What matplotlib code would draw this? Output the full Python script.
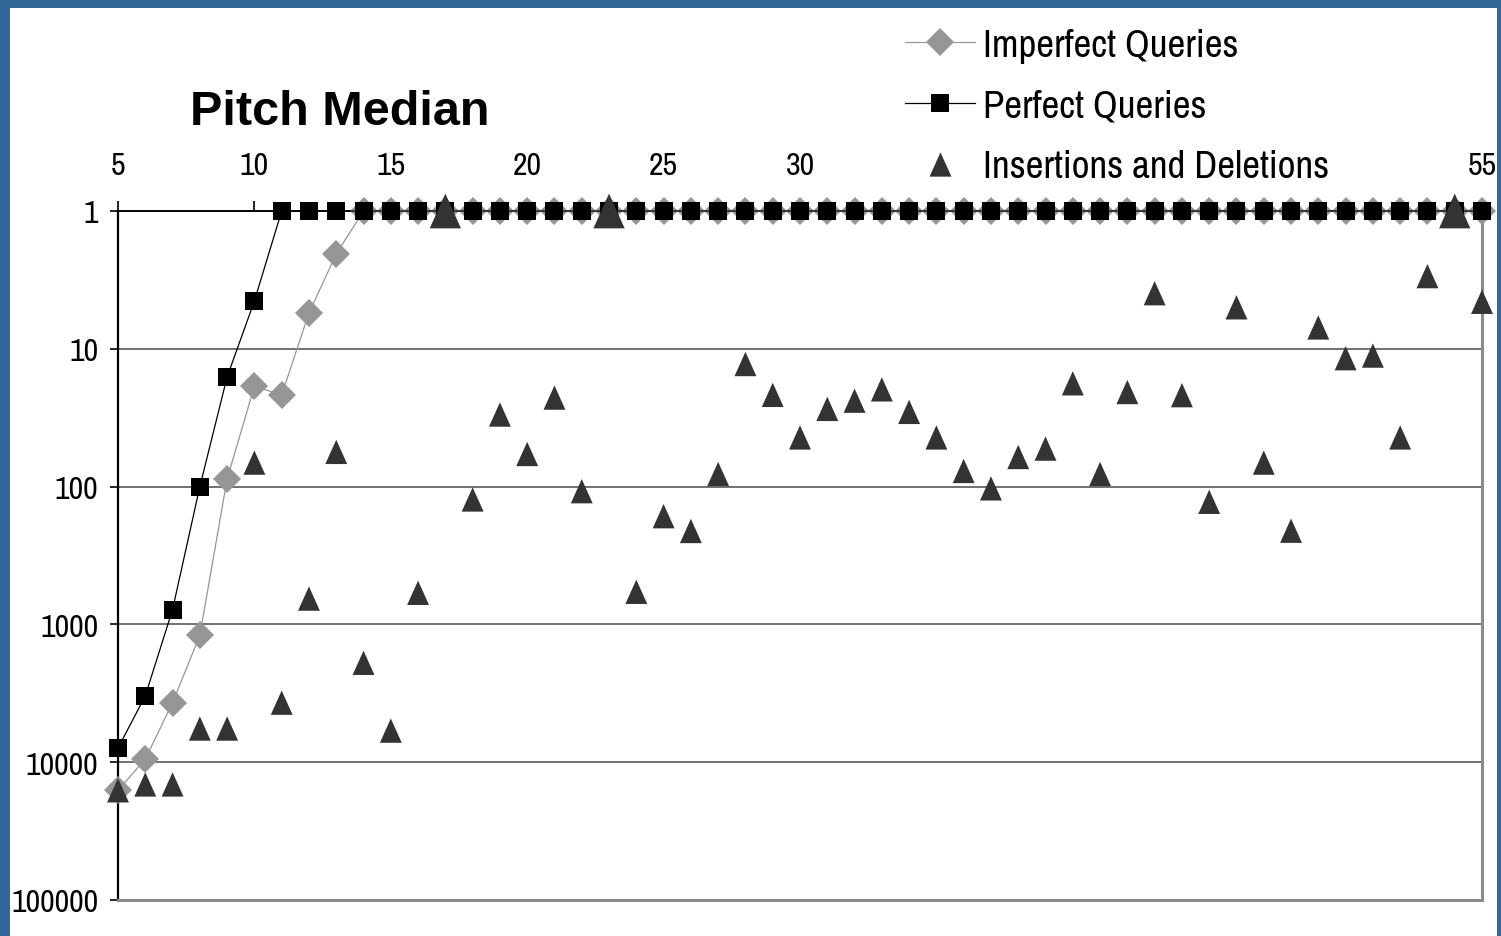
import matplotlib
matplotlib.use("Agg")
import matplotlib.pyplot as plt
from matplotlib import font_manager
from matplotlib.lines import Line2D
from matplotlib.patches import Rectangle
from matplotlib.ticker import FixedLocator, NullLocator
import numpy as np

# ---- data -------------------------------------------------------------
query_length = list(range(5, 56))

imperfect_queries = [16000, 9500, 3700, 1200, 88, 18.7, 21.6, 5.5, 2.05,
                     1, 1, 1, 1, 1, 1, 1, 1, 1, 1, 1, 1, 1, 1, 1, 1, 1, 1,
                     1, 1, 1, 1, 1, 1, 1, 1, 1, 1, 1, 1, 1, 1, 1, 1, 1, 1,
                     1, 1, 1, 1, 1, 1]

perfect_queries = [7900, 3300, 780, 100, 16, 4.5,
                   1, 1, 1, 1, 1, 1, 1, 1, 1, 1, 1, 1, 1, 1, 1, 1, 1, 1,
                   1, 1, 1, 1, 1, 1, 1, 1, 1, 1, 1, 1, 1, 1, 1, 1, 1, 1,
                   1, 1, 1, 1, 1, 1, 1, 1, 1]

insertions_deletions = [16000, 14500, 14500, 5700, 5700, 67, 3700, 650, 56,
                        1900, 5900, 590, 1, 124, 30, 58, 22.6, 108, 1, 580,
                        164, 210, 81, 12.9, 21.6, 44, 27.3, 23.8, 19.7, 28.7,
                        44, 77, 103, 61, 53, 17.8, 81, 20.6, 3.95, 21.7, 129,
                        5.0, 67, 209, 7.0, 11.7, 11.2, 44, 2.97, 1, 4.56]

x_ticks = [5, 10, 15, 20, 25, 30, 35, 40, 45, 50, 55]
x_tick_labels = ["5", "10", "15", "20", "25", "30", "", "", "", "", "55"]
y_ticks = [1, 10, 100, 1000, 10000, 100000]
y_tick_labels = ["1", "10", "100", "1000", "10000", "100000"]

series_names = ["Imperfect Queries", "Perfect Queries", "Insertions and Deletions"]
chart_title = "Pitch Median"

# ---- fonts ------------------------------------------------------------
available = {f.name for f in font_manager.fontManager.ttflist}
narrow_pref = ["Liberation Sans Narrow", "Arial Narrow", "Archivo Narrow",
               "PT Sans Narrow", "Roboto Condensed"]
NARROW = [n for n in narrow_pref if n in available] + ["Liberation Sans", "DejaVu Sans"]
NARROW = NARROW[:1] + ["DejaVu Sans"]

# ---- style ------------------------------------------------------------
GREY = "#969696"
DARK = "#333333"
FRAME_BLUE = "#336699"

W, H, DPI = 1501, 937, 100
fig = plt.figure(figsize=(W / DPI, H / DPI), dpi=DPI, facecolor=FRAME_BLUE)

# white slide area inside the blue frame
fig.patches.append(Rectangle((10 / W, 0), 1487 / W, 928 / H,
                             transform=fig.transFigure, facecolor="white",
                             edgecolor="none", zorder=0))

ax = fig.add_axes([118 / W, 1 - 901 / H, (1482 - 118) / W, (901 - 212) / H])
ax.set_zorder(2)
ax.set_facecolor("none")

ax.set_yscale("log")
ax.set_xlim(5, 55)
ax.set_ylim(100000, 1)

# horizontal gridlines
for v in y_ticks[1:-1]:
    ax.axhline(v, color="#4a4a4a", lw=1.1, zorder=1)

# spines
ax.spines["left"].set_color("black")
ax.spines["left"].set_linewidth(1.6)
ax.spines["top"].set_color("black")
ax.spines["top"].set_linewidth(1.4)
ax.spines["right"].set_color("#8c8c8c")
ax.spines["right"].set_linewidth(2.2)
ax.spines["bottom"].set_color("#8c8c8c")
ax.spines["bottom"].set_linewidth(2.2)

# series
ax.plot(query_length, imperfect_queries, color=GREY, lw=0.9, marker="D",
        ms=14, mfc=GREY, mec=GREY, mew=0, clip_on=False, zorder=3)
ax.plot(query_length, perfect_queries, color="black", lw=0.9, marker="s",
        ms=12.5, mfc="black", mec="black", mew=0, clip_on=False, zorder=4)

tri = [(0, 1.0), (-0.9, -1.0), (0.9, -1.0)]
ins = np.array(insertions_deletions)
tri_sizes = np.where(ins == 1, 25.0, 17.5) ** 2
ax.scatter(query_length, insertions_deletions, marker=tri, s=tri_sizes,
           color=DARK, linewidths=0, clip_on=False, zorder=5)

# axes ticks and labels
ax.xaxis.set_ticks_position("top")
ax.xaxis.set_label_position("top")
ax.xaxis.set_major_locator(FixedLocator(x_ticks))
ax.set_xticklabels(x_tick_labels)
ax.xaxis.set_minor_locator(NullLocator())
ax.tick_params(axis="x", direction="out", length=7, width=1.2, pad=16,
               labelsize=23, colors="black")

ax.yaxis.set_major_locator(FixedLocator(y_ticks))
ax.yaxis.set_minor_locator(NullLocator())
ax.set_yticklabels(y_tick_labels)
ax.tick_params(axis="y", direction="out", length=6, width=1.2, pad=8,
               labelsize=23, colors="black")

for lbl in ax.get_xticklabels() + ax.get_yticklabels():
    lbl.set_family(NARROW)

# title
fig.text(190 / W, 1 - 125 / H, chart_title, ha="left", va="baseline",
         fontsize=35, fontweight="bold", family=["Liberation Sans", "DejaVu Sans"])

# legend
handles = [
    Line2D([], [], color=GREY, lw=0.9, marker="D", ms=14, mfc=GREY, mew=0),
    Line2D([], [], color="black", lw=0.9, marker="s", ms=12.5, mfc="black", mew=0),
    Line2D([], [], ls="none", marker=tri, ms=17.5, mfc=DARK, mew=0),
]
leg = fig.legend(handles, series_names, loc="upper left",
                 bbox_to_anchor=(905 / W, 1 - 29 / H), frameon=False,
                 prop={"family": NARROW, "size": 28}, handlelength=1.8,
                 handletextpad=0.2, labelspacing=0.66, borderpad=0,
                 borderaxespad=0)

fig.savefig("out.png", dpi=DPI, facecolor=FRAME_BLUE)
